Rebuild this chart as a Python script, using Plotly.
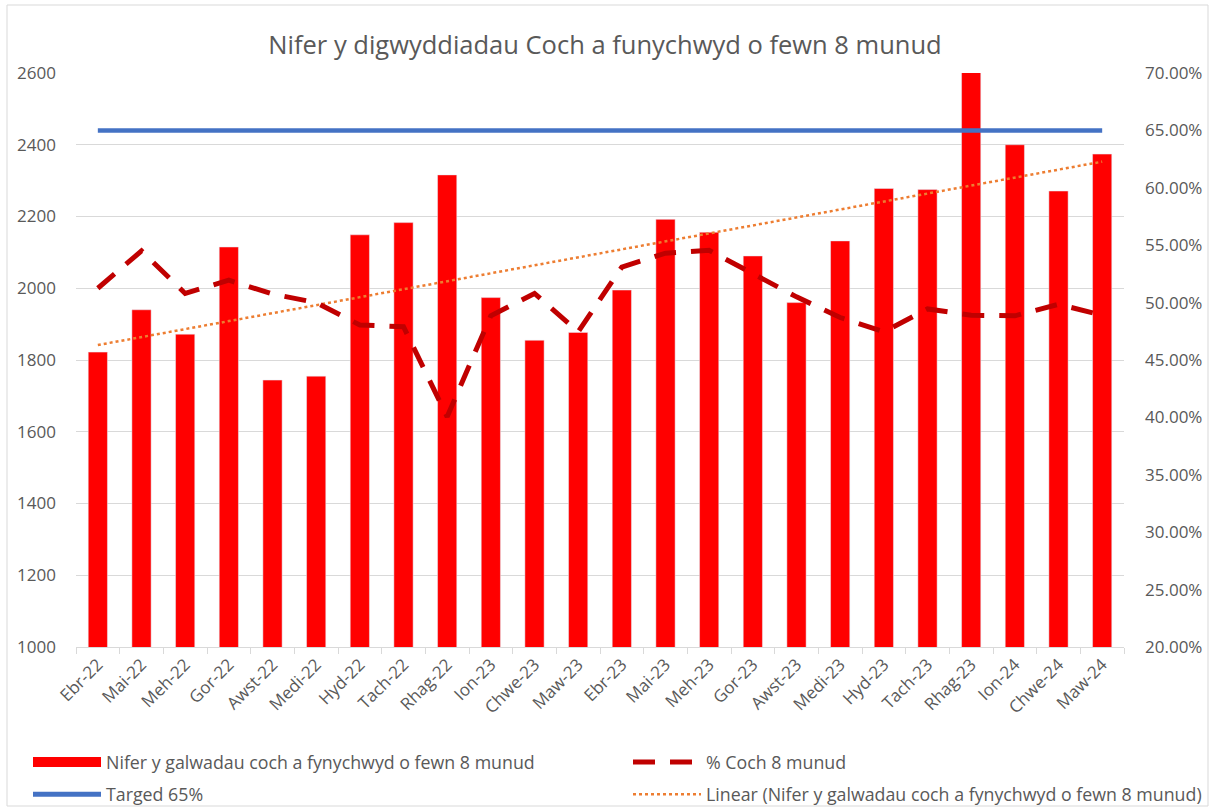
import numpy as np
import plotly.graph_objects as go

# ---------------- data ----------------
months = ["Ebr-22", "Mai-22", "Meh-22", "Gor-22", "Awst-22", "Medi-22", "Hyd-22", "Tach-22",
          "Rhag-22", "Ion-23", "Chwe-23", "Maw-23", "Ebr-23", "Mai-23", "Meh-23", "Gor-23",
          "Awst-23", "Medi-23", "Hyd-23", "Tach-23", "Rhag-23", "Ion-24", "Chwe-24", "Maw-24"]

calls_8min = [1822, 1940, 1872, 2115, 1744, 1755, 2149, 2183,
              2316, 1974, 1855, 1877, 1995, 2192, 2156, 2090,
              1960, 2132, 2278, 2275, 2610, 2400, 2271, 2374]

pct_8min = [51.25, 54.5, 50.8, 51.95, 50.75, 50.0, 48.05, 47.9,
            40.05, 48.85, 50.8, 47.45, 53.1, 54.3, 54.55, 52.55,
            50.5, 48.7, 47.45, 49.45, 48.9, 48.85, 49.85, 48.9]

target_pct = 65.0

title_text = "Nifer y digwyddiadau Coch a funychwyd o fewn 8 munud"
name_bars = "Nifer y galwadau coch a fynychwyd o fewn 8 munud"
name_pct = "% Coch 8 munud"
name_target = "Targed 65%"
name_trend = "Linear (Nifer y galwadau coch a fynychwyd o fewn 8 munud)"

# linear trendline of the bar series (least squares, like Excel)
idx = np.arange(len(calls_8min))
slope, intercept = np.polyfit(idx, np.array(calls_8min, dtype=float), 1)
trend_vals = intercept + slope * idx

FONT = "Open Sans"
GREY = "#595959"
GRID = "#d9d9d9"
DASH_PCT = "22px,15px"

fig = go.Figure()

fig.add_trace(go.Bar(x=months, y=calls_8min, marker=dict(color="#FF0000"),
                     name=name_bars, showlegend=False))

fig.add_trace(go.Scatter(x=months, y=trend_vals, mode="lines",
                         line=dict(color="#ED7D31", width=2.5, dash="dot"),
                         name=name_trend, showlegend=False))

fig.add_trace(go.Scatter(x=months, y=pct_8min, mode="lines", yaxis="y2",
                         line=dict(color="#C00000", width=5, dash=DASH_PCT),
                         name=name_pct, showlegend=False))

fig.add_trace(go.Scatter(x=months, y=[target_pct] * len(months), mode="lines", yaxis="y2",
                         line=dict(color="#4472C4", width=4.5),
                         name=name_target, showlegend=False))

# legend entries (two columns, as in the original)
fig.add_trace(go.Scatter(x=[months[0]], y=[None], mode="lines", legend="legend",
                         legendgroup="a",
                         line=dict(color="#FF0000", width=13), name=name_bars, hoverinfo="skip"))
fig.add_trace(go.Scatter(x=[months[0]], y=[None], mode="lines", legend="legend",
                         legendgroup="b",
                         line=dict(color="#4472C4", width=5), name=name_target, hoverinfo="skip"))
fig.add_trace(go.Scatter(x=[months[0]], y=[None], mode="lines", legend="legend2",
                         legendgroup="c",
                         line=dict(color="#C00000", width=5, dash=DASH_PCT), name=name_pct,
                         hoverinfo="skip"))
fig.add_trace(go.Scatter(x=[months[0]], y=[None], mode="lines", legend="legend2",
                         legendgroup="d",
                         line=dict(color="#ED7D31", width=2.5, dash="dot"), name=name_trend,
                         hoverinfo="skip"))

L, R, T, B = 76, 86, 73, 160
W, H = 1210, 807
pw, ph = W - L - R, H - T - B


def px_x(p):
    return (p - L) / pw


def px_y(p):
    return (H - B - p) / ph


legend_common = dict(orientation="v", xanchor="left", yanchor="top", traceorder="grouped",
                     itemwidth=68, font=dict(size=17.8, color=GREY, family=FONT),
                     bgcolor="rgba(0,0,0,0)", tracegroupgap=6)

fig.update_layout(
    width=W, height=H,
    margin=dict(l=L, r=R, t=T, b=B, autoexpand=False),
    paper_bgcolor="white", plot_bgcolor="white",
    font=dict(family=FONT, color=GREY, size=17),
    title=dict(text=title_text, x=0.5, xanchor="center", y=1 - 45 / H, yanchor="middle",
               font=dict(size=25.5, color=GREY, family=FONT)),
    bargap=0.56,
    xaxis=dict(type="category", showline=True, linecolor=GRID, linewidth=1,
               ticks="outside", tickson="boundaries", ticklen=6, tickcolor=GRID,
               tickangle=-45, tickfont=dict(size=17, color=GREY), showgrid=False),
    yaxis=dict(range=[1000, 2600], dtick=200, showgrid=True, gridcolor=GRID, gridwidth=1,
               zeroline=False, showline=False, tickfont=dict(size=17, color=GREY),
               ticklabelstandoff=19),
    yaxis2=dict(range=[20, 70], dtick=5, tickformat=".2f", ticksuffix="%",
                overlaying="y", side="right", showgrid=False, zeroline=False,
                showline=False, tickfont=dict(size=17, color=GREY),
                ticklabelstandoff=20),
    legend=dict(x=px_x(28), y=px_y(744), **legend_common),
    legend2=dict(x=px_x(628), y=px_y(744), **legend_common),
    shapes=[dict(type="rect", xref="paper", yref="paper",
                 x0=px_x(7), x1=px_x(1208), y0=px_y(806), y1=px_y(5),
                 line=dict(color=GRID, width=1), fillcolor="rgba(0,0,0,0)", layer="below")],
)

fig.write_html("out.html",
               config={"displayModeBar": False},
               post_script="document.body.style.margin='0';"
                           "document.body.style.overflow='hidden';")
